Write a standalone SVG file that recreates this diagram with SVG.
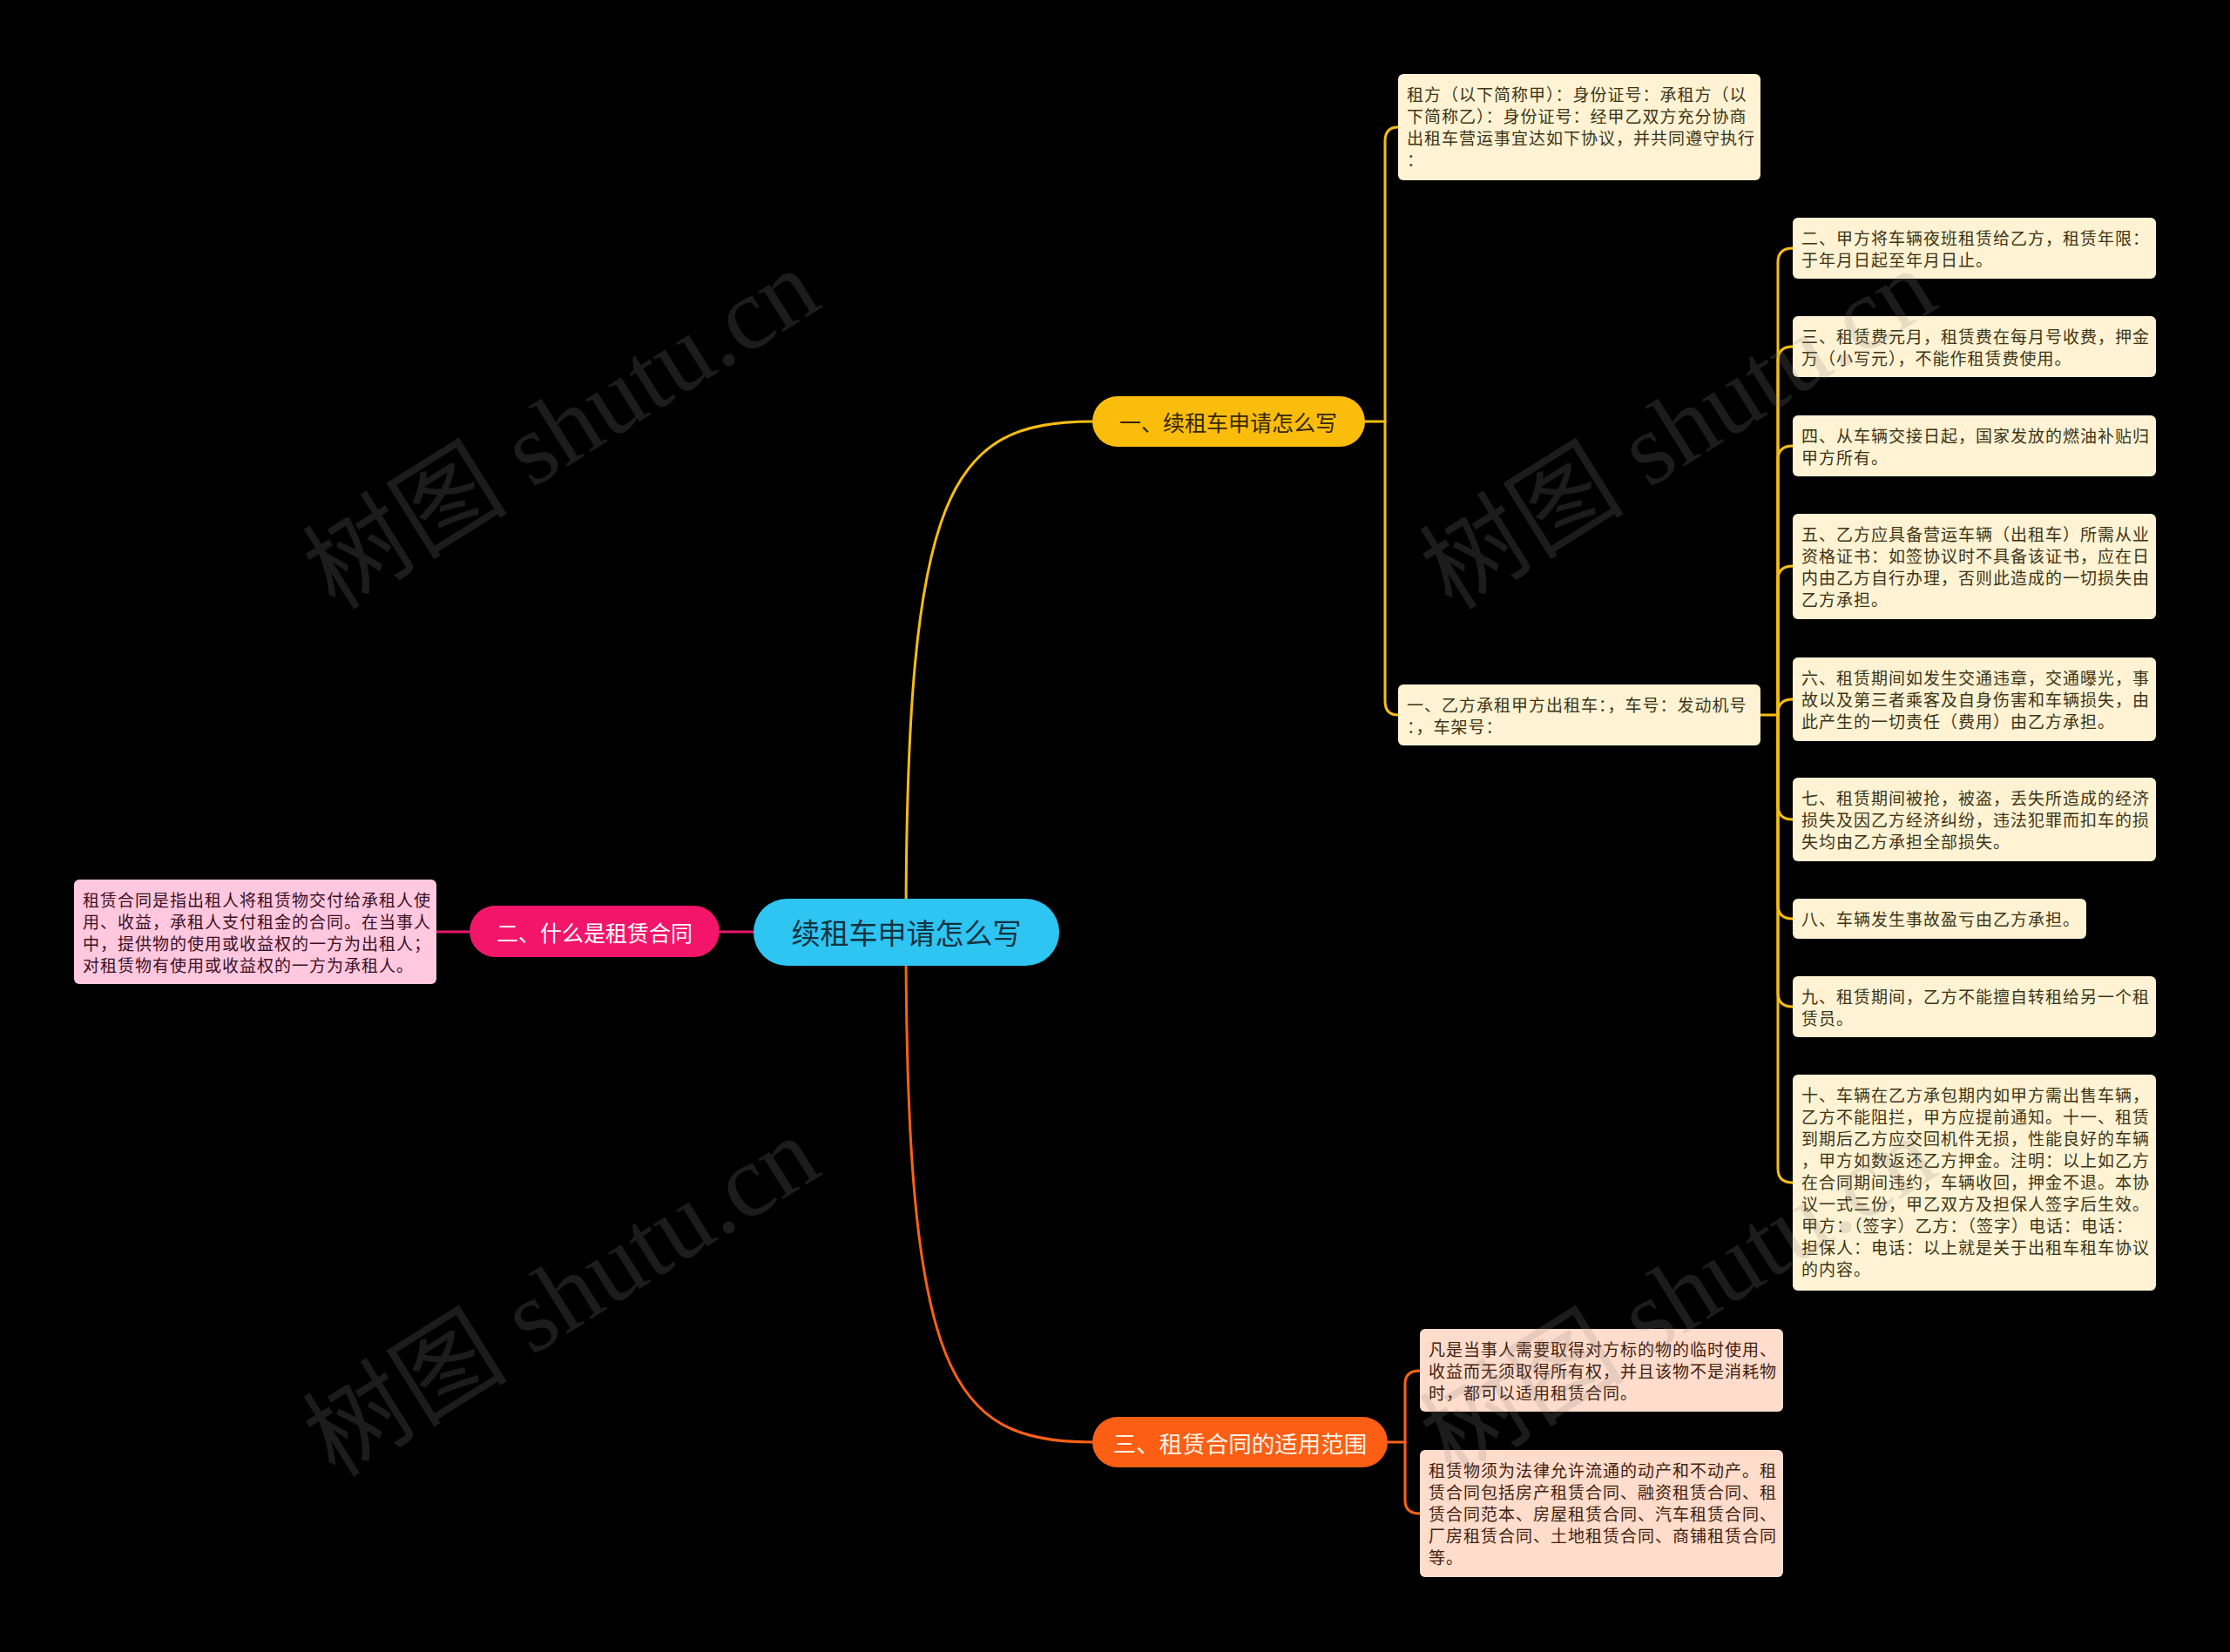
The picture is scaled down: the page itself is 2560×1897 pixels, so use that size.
<svg xmlns="http://www.w3.org/2000/svg" width="2560" height="1897" viewBox="0 0 2560 1897">
<style>
.t{font-family:"Noto Sans CJK SC","Noto Sans",sans-serif;font-size:19px;letter-spacing:1px;dominant-baseline:central}
.ty{fill:#3d3414}
.to{fill:#42200e}
.tp{fill:#3c0f22}
.by{fill:#fff3d4}
.bo{fill:#ffdccb}
.bp{fill:#ffc8df}
.cy{fill:none;stroke:#f5bd14;stroke-width:3;stroke-linecap:round}
.co{fill:none;stroke:#fb6215;stroke-width:3;stroke-linecap:round}
.cp{fill:none;stroke:#e3186a;stroke-width:3}
.wm{font-family:"Liberation Serif","Noto Sans CJK SC",serif;font-size:118px;fill:#8a8a8a;opacity:0.2}
.h{font-family:"Noto Sans CJK SC","Noto Sans",sans-serif;text-anchor:middle;dominant-baseline:central}
</style>
<rect x="0" y="0" width="2560" height="1897" fill="#000000"/>

<g id="connectors">
<path class="cy" d="M1040,1070 C1040,560 1090,484 1254,484"/>
<path class="co" d="M1040,1070 C1040,1580 1090,1656 1254,1656"/>
<path class="cp" d="M865,1070 H826"/>
<path class="cp" d="M539,1070 H501"/>
<path class="cy" d="M1566,484 H1590"/>
<path class="cy" d="M1590,484 V162 Q1590,146 1605,146"/>
<path class="cy" d="M1590,484 V805 Q1590,821 1605,821"/>
<path class="cy" d="M2021,821 H2041"/>
<path class="cy" d="M2041,821 V301 Q2041,285 2058,285"/>
<path class="cy" d="M2041,821 V414 Q2041,398 2058,398"/>
<path class="cy" d="M2041,821 V528 Q2041,512 2058,512"/>
<path class="cy" d="M2041,821 V666 Q2041,650 2058,650"/>
<path class="cy" d="M2041,821 V819 Q2041,803 2058,803"/>
<path class="cy" d="M2041,821 V925 Q2041,941 2058,941"/>
<path class="cy" d="M2041,821 V1039 Q2041,1055 2058,1055"/>
<path class="cy" d="M2041,821 V1140 Q2041,1156 2058,1156"/>
<path class="cy" d="M2041,821 V1342 Q2041,1358 2058,1358"/>
<path class="co" d="M1593,1656 H1613"/>
<path class="co" d="M1613,1656 V1589 Q1613,1574 1630,1574"/>
<path class="co" d="M1613,1656 V1723 Q1613,1738 1630,1738"/>
</g>

<g id="root">
<rect x="865" y="1032" width="351" height="77" rx="38.5" fill="#2ec5f2"/>
<text class="h" x="1040.5" y="1070" font-size="33" fill="#14323f">续租车申请怎么写</text>
</g>

<g id="n1">
<rect x="1254" y="455" width="313" height="58" rx="29" fill="#fbbd0c"/>
<text class="h" x="1410" y="484" font-size="25" fill="#352700">一、续租车申请怎么写</text>
</g>

<g id="n2">
<rect x="539" y="1040" width="287" height="59" rx="29.5" fill="#f2156a"/>
<text class="h" x="682.5" y="1069.5" font-size="25" fill="#ffffff">二、什么是租赁合同</text>
</g>

<g id="n3">
<rect x="1254" y="1627" width="339" height="58" rx="29" fill="#fc5e14"/>
<text class="h" x="1423.5" y="1656" font-size="26.5" fill="#fff3e8">三、租赁合同的适用范围</text>
</g>

<g id="n2-1">
<rect class="bp" x="85" y="1010" width="416" height="120" rx="6"/>
<text class="t tp"><tspan x="95" y="1032">租赁合同是指出租人将租赁物交付给承租人使</tspan><tspan x="95" y="1057">用、收益，承租人支付租金的合同。在当事人</tspan><tspan x="95" y="1082">中，提供物的使用或收益权的一方为出租人；</tspan><tspan x="95" y="1107">对租赁物有使用或收益权的一方为承租人。</tspan></text>
</g>

<g id="n1-a">
<rect class="by" x="1605" y="85" width="416" height="122" rx="6"/>
<text class="t ty"><tspan x="1615" y="107">租方（以下简称甲）：身份证号：承租方（以</tspan><tspan x="1615" y="132">下简称乙）：身份证号：经甲乙双方充分协商</tspan><tspan x="1615" y="157">出租车营运事宜达如下协议，并共同遵守执行</tspan><tspan x="1615" y="182">：</tspan></text>
</g>

<g id="n1-b">
<rect class="by" x="1605" y="786" width="416" height="70" rx="6"/>
<text class="t ty"><tspan x="1615" y="808">一、乙方承租甲方出租车：，车号：发动机号</tspan><tspan x="1615" y="833">：，车架号：</tspan></text>
</g>

<g id="n1-b-2">
<rect class="by" x="2058" y="250" width="417" height="70" rx="6"/>
<text class="t ty"><tspan x="2068" y="272">二、甲方将车辆夜班租赁给乙方，租赁年限：</tspan><tspan x="2068" y="297">于年月日起至年月日止。</tspan></text>
</g>

<g id="n1-b-3">
<rect class="by" x="2058" y="363" width="417" height="70" rx="6"/>
<text class="t ty"><tspan x="2068" y="385">三、租赁费元月，租赁费在每月号收费，押金</tspan><tspan x="2068" y="410">万（小写元），不能作租赁费使用。</tspan></text>
</g>

<g id="n1-b-4">
<rect class="by" x="2058" y="477" width="417" height="70" rx="6"/>
<text class="t ty"><tspan x="2068" y="499">四、从车辆交接日起，国家发放的燃油补贴归</tspan><tspan x="2068" y="524">甲方所有。</tspan></text>
</g>

<g id="n1-b-5">
<rect class="by" x="2058" y="590" width="417" height="121" rx="6"/>
<text class="t ty"><tspan x="2068" y="612">五、乙方应具备营运车辆（出租车）所需从业</tspan><tspan x="2068" y="637">资格证书：如签协议时不具备该证书，应在日</tspan><tspan x="2068" y="662">内由乙方自行办理，否则此造成的一切损失由</tspan><tspan x="2068" y="687">乙方承担。</tspan></text>
</g>

<g id="n1-b-6">
<rect class="by" x="2058" y="755" width="417" height="96" rx="6"/>
<text class="t ty"><tspan x="2068" y="777">六、租赁期间如发生交通违章，交通曝光，事</tspan><tspan x="2068" y="802">故以及第三者乘客及自身伤害和车辆损失，由</tspan><tspan x="2068" y="827">此产生的一切责任（费用）由乙方承担。</tspan></text>
</g>

<g id="n1-b-7">
<rect class="by" x="2058" y="893" width="417" height="96" rx="6"/>
<text class="t ty"><tspan x="2068" y="915">七、租赁期间被抢，被盗，丢失所造成的经济</tspan><tspan x="2068" y="940">损失及因乙方经济纠纷，违法犯罪而扣车的损</tspan><tspan x="2068" y="965">失均由乙方承担全部损失。</tspan></text>
</g>

<g id="n1-b-8">
<rect class="by" x="2058" y="1032" width="337" height="46" rx="6"/>
<text class="t ty"><tspan x="2068" y="1054">八、车辆发生事故盈亏由乙方承担。</tspan></text>
</g>

<g id="n1-b-9">
<rect class="by" x="2058" y="1121" width="417" height="70" rx="6"/>
<text class="t ty"><tspan x="2068" y="1143">九、租赁期间，乙方不能擅自转租给另一个租</tspan><tspan x="2068" y="1168">赁员。</tspan></text>
</g>

<g id="n1-b-10">
<rect class="by" x="2058" y="1234" width="417" height="248" rx="6"/>
<text class="t ty"><tspan x="2068" y="1256">十、车辆在乙方承包期内如甲方需出售车辆，</tspan><tspan x="2068" y="1281">乙方不能阻拦，甲方应提前通知。十一、租赁</tspan><tspan x="2068" y="1306">到期后乙方应交回机件无损，性能良好的车辆</tspan><tspan x="2068" y="1331">，甲方如数返还乙方押金。注明：以上如乙方</tspan><tspan x="2068" y="1356">在合同期间违约，车辆收回，押金不退。本协</tspan><tspan x="2068" y="1381">议一式三份，甲乙双方及担保人签字后生效。</tspan><tspan x="2068" y="1406">甲方：（签字）乙方：（签字）电话：电话：</tspan><tspan x="2068" y="1431">担保人：电话：以上就是关于出租车租车协议</tspan><tspan x="2068" y="1456">的内容。</tspan></text>
</g>

<g id="n3-1">
<rect class="bo" x="1630" y="1526" width="417" height="95" rx="6"/>
<text class="t to"><tspan x="1640" y="1548">凡是当事人需要取得对方标的物的临时使用、</tspan><tspan x="1640" y="1573">收益而无须取得所有权，并且该物不是消耗物</tspan><tspan x="1640" y="1598">时，都可以适用租赁合同。</tspan></text>
</g>

<g id="n3-2">
<rect class="bo" x="1630" y="1665" width="417" height="146" rx="6"/>
<text class="t to"><tspan x="1640" y="1687">租赁物须为法律允许流通的动产和不动产。租</tspan><tspan x="1640" y="1712">赁合同包括房产租赁合同、融资租赁合同、租</tspan><tspan x="1640" y="1737">赁合同范本、房屋租赁合同、汽车租赁合同、</tspan><tspan x="1640" y="1762">厂房租赁合同、土地租赁合同、商铺租赁合同</tspan><tspan x="1640" y="1787">等。</tspan></text>
</g>

<g id="watermarks">
<text class="wm" transform="translate(385,702) rotate(-32)">树图 shutu.cn</text>
<text class="wm" transform="translate(1667,702) rotate(-32)">树图 shutu.cn</text>
<text class="wm" transform="translate(385,1698) rotate(-32)">树图 shutu.cn</text>
<text class="wm" transform="translate(1667,1698) rotate(-32)">树图 shutu.cn</text>
</g>
</svg>
